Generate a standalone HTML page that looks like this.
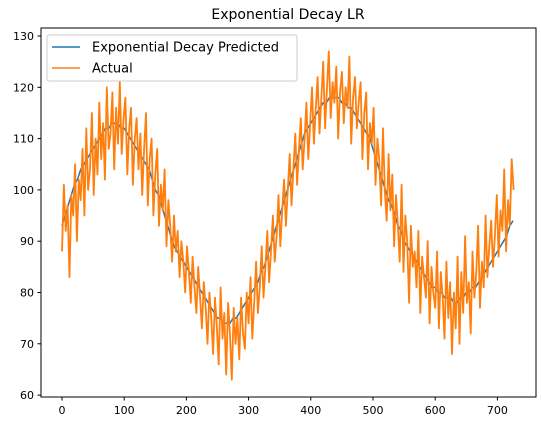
<!DOCTYPE html>
<html><head><meta charset="utf-8"><style>
body{margin:0;background:#fff;}
svg{display:block;font-family:"DejaVu Sans","Liberation Sans",sans-serif;}
</style></head><body>
<svg id="chart" width="541" height="425">
<text x="288" y="19" text-anchor="middle" font-size="14">Exponential Decay LR</text>
<g id="plot"></g>
<rect x="41" y="28" width="495" height="369" fill="none" stroke="#000" stroke-width="1"/>
<g>
<rect x="47" y="35" width="250" height="46" rx="2" fill="#fff" fill-opacity="0.8" stroke="#ccc"/>
<line x1="52" y1="47" x2="80" y2="47" stroke="#1f77b4" stroke-width="1.5"/>
<text x="92" y="51.5" font-size="13">Exponential Decay Predicted</text>
<line x1="52" y1="68" x2="80" y2="68" stroke="#ff7f0e" stroke-width="1.5"/>
<text x="92" y="72.5" font-size="13">Actual</text>
</g>
</svg>
<script>
const xTicks=[0,100,200,300,400,500,600,700];
const yTicks=[60,70,80,90,100,110,120,130];
const predicted=[93,95,97,99,101,102,104,105,106,107,108,
109,110,111,112,112,113,113,113,112,112,
111,110,109,108,107,106,105,104,102,100,
99,97,95,93,91,89,88,87,86,85,
84,83,82,81,80,79,78,77,76,75,
75,74,74,74,75,75,76,77,78,79,
80,81,82,84,85,87,89,91,93,95,
97,99,101,103,105,107,109,111,112,113,
114,115,116,117,117,118,118,118,118,117,
117,116,116,115,114,113,112,111,110,108,
106,104,102,100,98,97,95,93,92,90,
89,88,87,86,85,84,83,82,81,81,
80,80,79,79,79,78,78,79,79,80,
80,81,81,82,83,84,85,86,87,88,
89,90,91,93,94];
const actual=[88,101,92,97,83,99,95,105,90,102,
98,108,95,112,100,104,115,99,110,103,
117,106,113,102,120,108,111,119,104,116,
109,121,107,114,118,103,112,116,101,110,
114,104,111,99,108,115,97,106,110,95,
103,108,93,101,96,104,89,98,93,86,
95,88,92,83,90,86,80,89,84,78,
87,81,76,85,79,73,82,77,70,80,
75,68,79,73,66,81,71,76,64,78,
72,63,77,70,75,67,79,72,69,80,
74,83,71,78,86,76,81,89,79,85,
92,82,88,95,86,91,99,89,96,102,
93,100,107,97,104,111,101,108,114,104,
110,117,106,113,120,109,116,122,111,118,
125,112,120,127,114,121,117,124,110,119,
123,113,120,116,126,109,118,122,112,117,
121,106,115,119,104,113,109,116,101,110,
106,97,112,100,94,107,96,103,89,99,
93,86,101,84,95,90,78,93,85,88,
81,92,76,87,83,79,90,74,85,80,
77,88,73,84,79,71,86,75,82,68,
80,73,87,70,84,76,91,78,82,72,
88,79,84,93,77,86,81,95,83,89,
94,85,91,99,87,96,92,104,88,98,
93,106,100];
const predStep=5;
const actStep=3;
const NS='http://www.w3.org/2000/svg';
const sx=v=>62+v*0.622;
const sy=v=>36+(130-v)*5.13;
const svg=document.getElementById('chart');
const plot=document.getElementById('plot');
function mk(t,a,p){const e=document.createElementNS(NS,t);for(const k in a)e.setAttribute(k,a[k]);(p||svg).appendChild(e);return e;}
xTicks.forEach(v=>{
  const l=mk('line',{x1:sx(v),x2:sx(v),y1:397,y2:400.5,stroke:'#000'});
  
  
  const t=mk('text',{x:sx(v),y:414,'text-anchor':'middle','font-size':'11'});
  t.textContent=v;
  
  
});
yTicks.forEach(v=>{
  const l=mk('line',{x1:37.5,x2:41,y1:sy(v),y2:sy(v),stroke:'#000'});
  
  
  const t=mk('text',{x:34,y:sy(v)+4,'text-anchor':'end','font-size':'11'});
  t.textContent=v;
  
  
});
function line(arr,step){return arr.map((v,i)=>(i?'L':'M')+sx(i*step).toFixed(1)+','+sy(v).toFixed(1)).join('');}
const p1=mk('path',{d:line(predicted,predStep),fill:'none',stroke:'#1f77b4','stroke-width':1.5},plot);


const p2=mk('path',{d:line(actual,actStep),fill:'none',stroke:'#ff7f0e','stroke-width':1.8,'stroke-linejoin':'round'},plot);


</script>
</body></html>
